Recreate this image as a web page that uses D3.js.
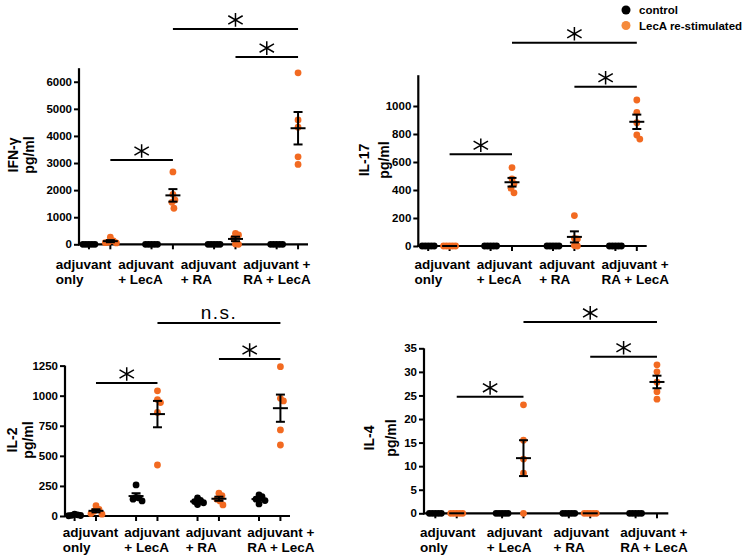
<!DOCTYPE html>
<html><head><meta charset="utf-8">
<script src="https://cdn.jsdelivr.net/npm/d3@7"></script>
<style>
body{margin:0;background:#fff}
svg{display:block}
text{font-family:"Liberation Sans",Arial,sans-serif;fill:#000}
</style>
</head><body>
<svg id="chart" width="750" height="560"></svg>
<script>
// ---------- data ----------
const groups = ["adjuvant only", "adjuvant + LecA", "adjuvant + RA", "adjuvant + RA + LecA"];
const groupLabelLines = [["adjuvant", "only"], ["adjuvant", "+ LecA"], ["adjuvant", "+ RA"], ["adjuvant +", "RA + LecA"]];
const series = ["control", "LecA re-stimulated"];

const ifngControl = [[0,0,0,0,0],[0,0,0,0,0],[0,0,0,0,0],[0,0,0,0,0]];
const ifngLecA = [[260,130,80,60,50],[2670,1845,1635,1550,1330],[405,345,225,15,0],[6330,4590,4320,3230,2950]];
const ifngTicks = [0,1000,2000,3000,4000,5000,6000];

const il17Control = [[0,0,0,0,0],[0,0,0,0,0],[0,0,0,0,0],[0,0,0,0,0]];
const il17LecA = [[0,0,0,0,0],[560,480,445,412,380],[217,55,50,3,0],[1043,955,881,793,764]];
const il17Ticks = [0,200,400,600,800,1000];

const il2Control = [[15,10,6,4,2],[258,155,150,140,125],[150,130,120,110,95],[175,160,140,128,100]];
const il2LecA = [[85,55,40,20,15],[1040,968,943,860,424],[190,170,140,125,92],[1241,978,956,715,590]];
const il2Ticks = [0,250,500,750,1000,1250];

const il4Control = [[0,0,0,0,0],[0,0,0,0,0],[0,0,0,0,0],[0,0,0,0,0]];
const il4LecA = [[0,0,0,0,0],[23,15.5,11.5,8.5,0],[0,0,0,0,0],[31.5,30,27.8,25.8,24.2]];
const il4Ticks = [0,5,10,15,20,25,30,35];

// comparisons: [groupA, groupB, label]
const ifngSig = [[1,3,"*"],[2,3,"*"],[0,1,"*"]];
const il17Sig = [[1,3,"*"],[2,3,"*"],[0,1,"*"]];
const il2Sig  = [[1,3,"n.s."],[2,3,"*"],[0,1,"*"]];
const il4Sig  = [[1,3,"*"],[2,3,"*"],[0,1,"*"]];

// ---------- layout ----------
const panels = [
  {title:"IFN-γ", control:ifngControl, lecA:ifngLecA, ticks:ifngTicks, sig:ifngSig, ymax:6500,
   sigLevels:[7950,6910,3110], x0:79, w:229, y0:244.3, yTop:68.2, labelDx:-44, labelY:269, titleX:[13,29], titleY:155},
  {title:"IL-17", control:il17Control, lecA:il17LecA, ticks:il17Ticks, sig:il17Sig, ymax:1220,
   sigLevels:[1452,1138,655], x0:418.3, w:228.4, y0:246, yTop:75.2, labelDx:-24.5, labelY:269, titleX:[364,384], titleY:160},
  {title:"IL-2", control:il2Control, lecA:il2LecA, ticks:il2Ticks, sig:il2Sig, ymax:1250,
   sigLevels:[1604,1305,1106], x0:65, w:225, y0:516, yTop:365.6, labelDx:-22.5, labelY:537, titleX:[12,28], titleY:440},
  {title:"IL-4", control:il4Control, lecA:il4LecA, ticks:il4Ticks, sig:il4Sig, ymax:35,
   sigLevels:[40.6,33.2,24.7], x0:424, w:244.3, y0:513.3, yTop:348.3, labelDx:-26, labelY:537, titleX:[369,391], titleY:438}
];

const ORANGE = "#f26a21";
const LEGEND_ORANGE = "#f58a3c";
const R = 3.4;

const svg = d3.select("#chart");

const asteriskType = {
  draw(ctx, size) {
    const k = Math.sqrt(size) / 10;
    const v = 6.8 * k, d = 8.3 * k;
    const dx = d * Math.cos(Math.PI/6), dy = d * Math.sin(Math.PI/6);
    ctx.moveTo(0, -v); ctx.lineTo(0, v);
    ctx.moveTo(-dx, -dy); ctx.lineTo(dx, dy);
    ctx.moveTo(-dx, dy); ctx.lineTo(dx, -dy);
  }
};

// simple beeswarm dodge: returns horizontal offsets
function swarm(vals, y, Dx, Dy, step) {
  const placed = [];
  const out = new Array(vals.length);
  const order = vals.map((v, i) => i).sort((a, b) => vals[b] - vals[a]);
  for (const i of order) {
    const yy = y(vals[i]);
    let x = 0;
    for (let n = 0; n < 200; n++) {
      const c = n === 0 ? 0 : (n % 2 ? Math.ceil(n/2) * step : -Math.ceil(n/2) * step);
      if (placed.every(p => ((p.x - c) / Dx) ** 2 + ((p.y - yy) / Dy) ** 2 >= 1)) { x = c; break; }
    }
    placed.push({x, y: yy});
    out[i] = x;
  }
  return out;
}

panels.forEach(p => {
  const g = svg.append("g");
  const x = d3.scalePoint().domain(groups).range([p.x0, p.x0 + p.w]).padding(0.33);
  const sub = d3.scalePoint().domain(series).range([-10.7, 10.7]);
  const y = d3.scaleLinear().domain([0, p.ymax]).range([p.y0, p.yTop]);
  const px = (gi, s) => x(groups[gi]) + sub(series[s]);

  // y axis
  const ya = g.append("g").attr("transform", `translate(${p.x0},0)`)
    .call(d3.axisLeft(y).tickValues(p.ticks).tickSize(5).tickPadding(2).tickSizeOuter(0).tickFormat(d3.format("d")));
  ya.select(".domain").attr("stroke-width", 2.2).attr("d", `M0,${p.y0 + 1}V${p.yTop}`);
  ya.selectAll(".tick line").attr("stroke-width", 2);
  ya.selectAll(".tick text").attr("font-size", 11.5).attr("font-weight", "bold")
    .style("font-family", "'Liberation Sans', Arial, sans-serif");

  // x axis
  g.append("line").attr("x1", p.x0 - 1).attr("x2", p.x0 + p.w)
    .attr("y1", p.y0).attr("y2", p.y0).attr("stroke", "#000").attr("stroke-width", 2.2);
  const tickPos = [];
  groups.forEach((gr, gi) => series.forEach((s, si) => tickPos.push(px(gi, si))));
  g.selectAll(".xt").data(tickPos).join("line")
    .attr("x1", d => d).attr("x2", d => d).attr("y1", p.y0).attr("y2", p.y0 + 5)
    .attr("stroke", "#000").attr("stroke-width", 2);

  // x labels
  groupLabelLines.forEach((lines, gi) => {
    const t = g.append("text").attr("font-size", 13.5).attr("font-weight", "bold")
      .attr("x", x(groups[gi]) + p.labelDx).attr("y", p.labelY);
    lines.forEach((ln, li) => t.append("tspan").attr("x", x(groups[gi]) + p.labelDx)
      .attr("dy", li === 0 ? 0 : 15).text(ln));
  });

  // y title
  [p.title, "pg/ml"].forEach((txt, i) => {
    g.append("text").attr("transform", `translate(${p.titleX[i]},${p.titleY}) rotate(-90)`)
      .attr("text-anchor", "middle").attr("dy", "0.35em")
      .attr("font-size", 14).attr("font-weight", "bold").text(txt);
  });

  // points
  [p.control, p.lecA].forEach((arr, si) => {
    arr.forEach((vals, gi) => {
      const offs = swarm(vals, y, 3, 6.5, 1);
      g.selectAll(null).data(vals).join("circle")
        .attr("cx", (d, i) => px(gi, si) + offs[i]).attr("cy", d => y(d)).attr("r", R)
        .attr("fill", si === 0 ? "#000" : ORANGE);
    });
  });

  // mean ± SEM
  [p.control, p.lecA].forEach((arr, si) => {
    arr.forEach((vals, gi) => {
      const m = d3.mean(vals);
      const sem = d3.deviation(vals) / Math.sqrt(vals.length);
      const cx = px(gi, si);
      g.append("line").attr("x1", cx - 7.5).attr("x2", cx + 7.5).attr("y1", y(m)).attr("y2", y(m))
        .attr("stroke", "#000").attr("stroke-width", 2);
      if (sem > p.ymax * 0.002) {
        g.append("line").attr("x1", cx).attr("x2", cx).attr("y1", y(m + sem)).attr("y2", y(m - sem))
          .attr("stroke", "#000").attr("stroke-width", 2);
        [m + sem, m - sem].forEach(v => g.append("line").attr("x1", cx - 4.5).attr("x2", cx + 4.5)
          .attr("y1", y(v)).attr("y2", y(v)).attr("stroke", "#000").attr("stroke-width", 2));
      }
    });
  });

  // significance
  p.sig.forEach(([a, b, label], k) => {
    const yy = y(p.sigLevels[k]);
    const xa = px(a, 1), xb = px(b, 1);
    g.append("line").attr("x1", xa).attr("x2", xb).attr("y1", yy).attr("y2", yy)
      .attr("stroke", "#000").attr("stroke-width", 2);
    if (label === "*") {
      g.append("path").attr("d", d3.symbol().type(asteriskType).size(100)())
        .attr("transform", `translate(${(xa + xb) / 2},${yy - 9})`)
        .attr("fill", "none").attr("stroke", "#000").attr("stroke-width", 1.5);
    } else {
      g.append("text").attr("x", (xa + xb) / 2).attr("y", yy - 4).attr("text-anchor", "middle")
        .attr("font-size", 19).attr("letter-spacing", 1.5).text(label);
    }
  });
});

// legend
const legend = svg.append("g").attr("transform", "translate(626,10)");
series.forEach((s, i) => {
  legend.append("circle").attr("cx", 0).attr("cy", i * 15.5).attr("r", 4.5)
    .attr("fill", i === 0 ? "#000" : LEGEND_ORANGE);
  legend.append("text").attr("x", 13).attr("y", i * 15.5).attr("dy", "0.35em")
    .attr("font-size", 11.5).attr("font-weight", "bold").text(s);
});
</script>
</body></html>
